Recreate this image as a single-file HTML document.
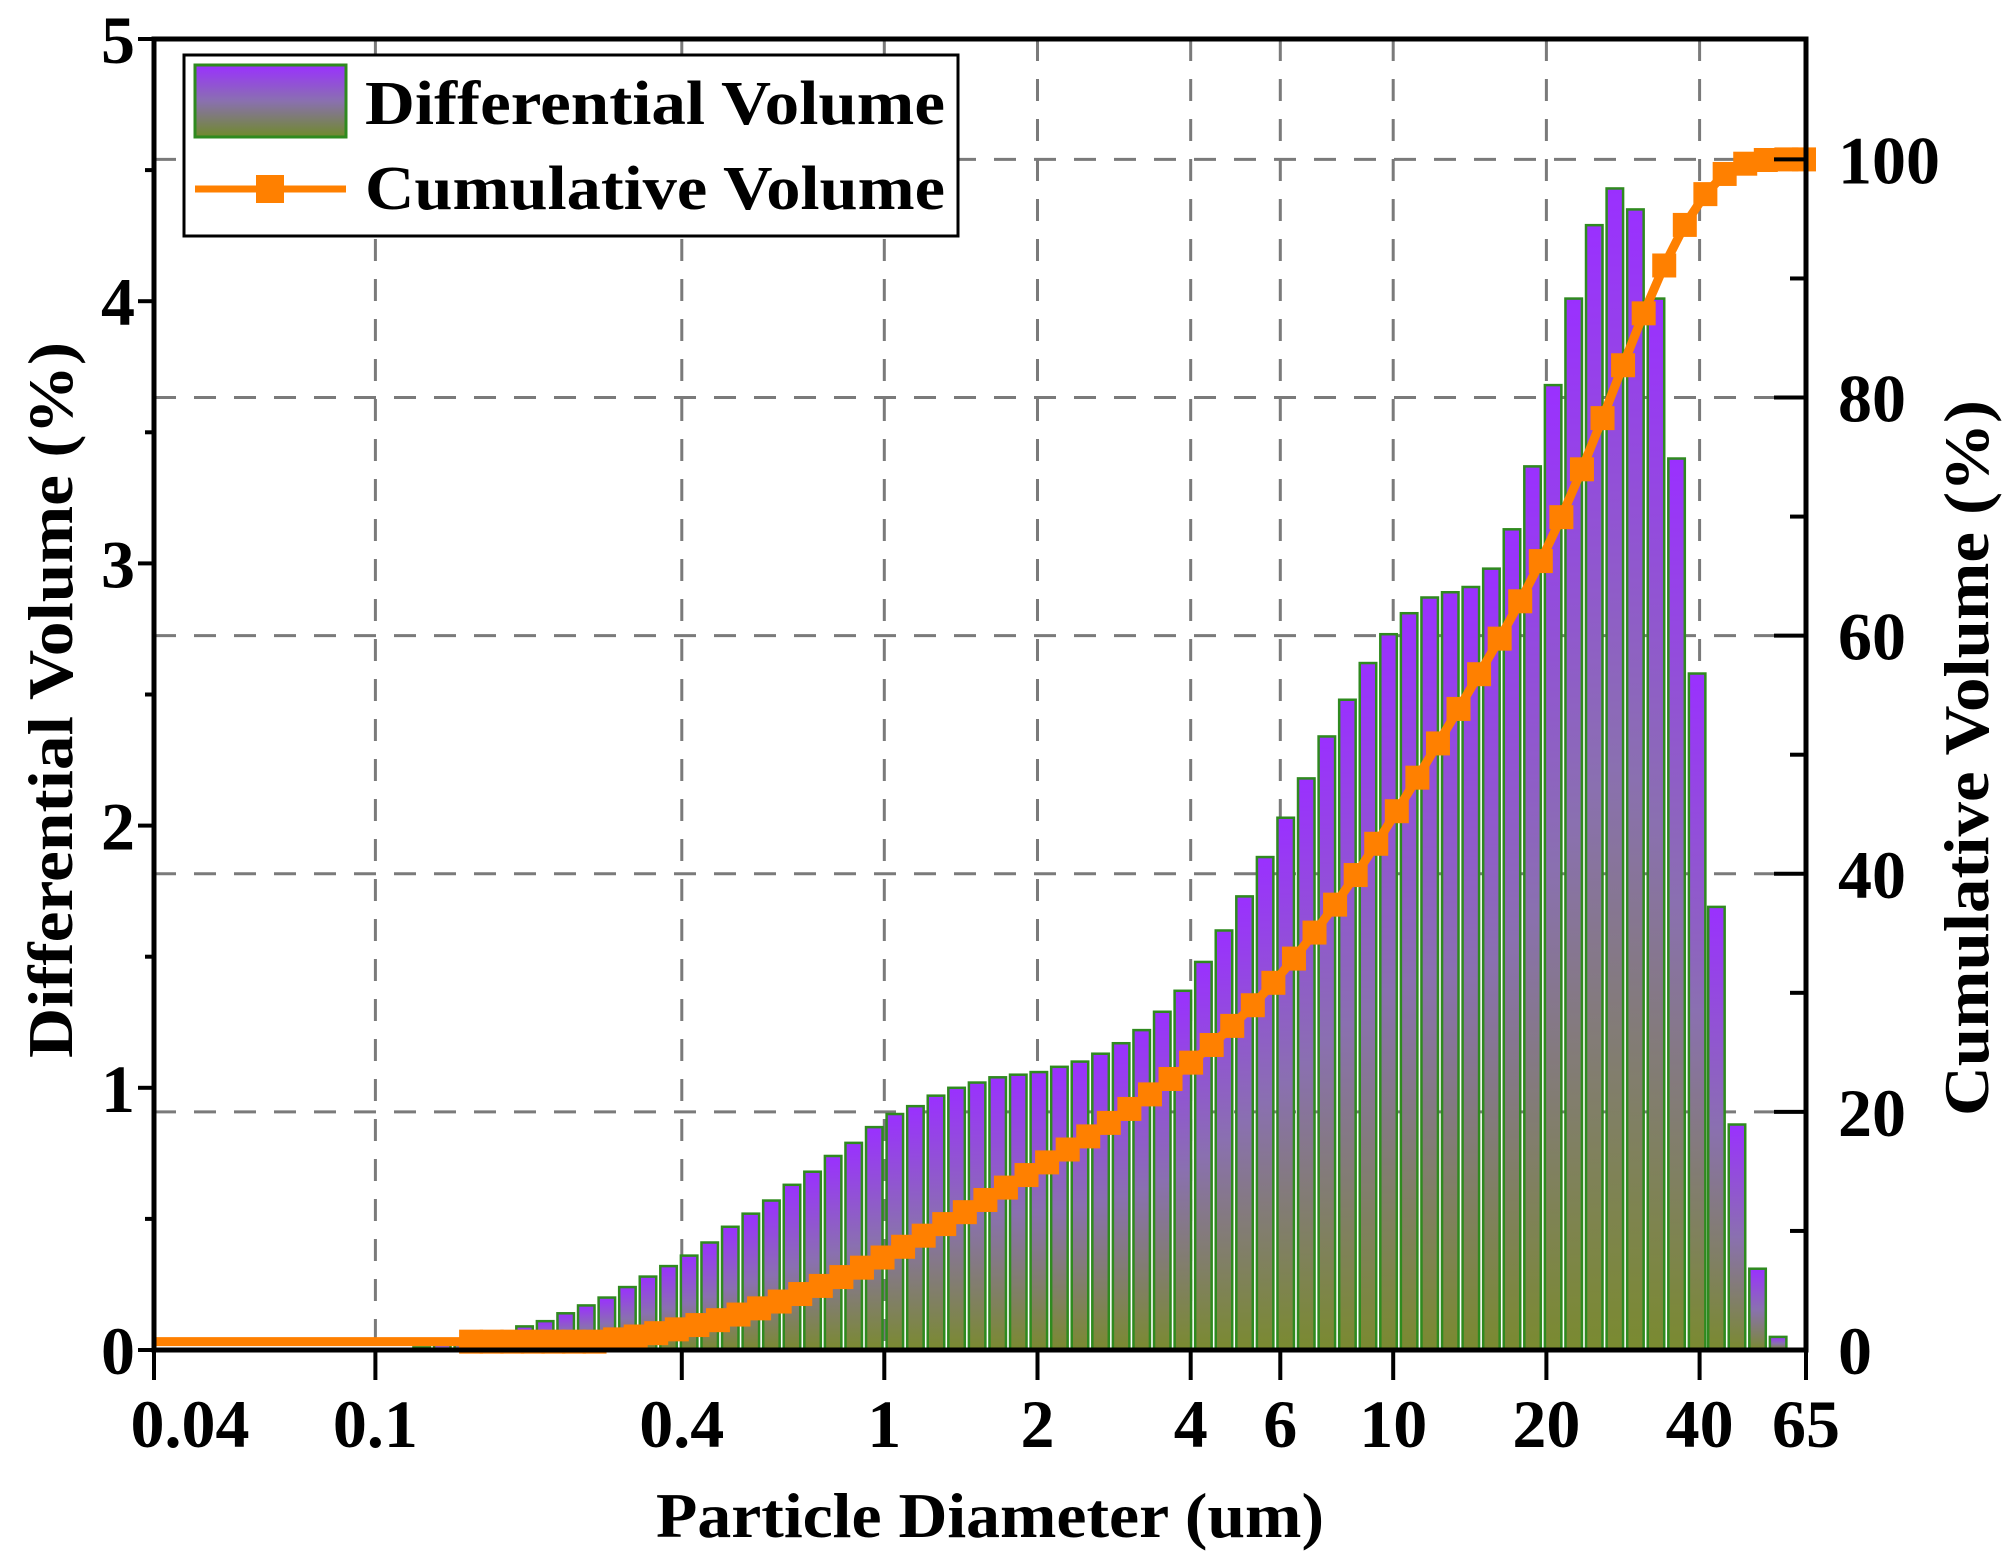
<!DOCTYPE html>
<html><head><meta charset="utf-8"><style>
html,body{margin:0;padding:0;background:#fff;}
svg{display:block;}
text{font-family:"Liberation Serif",serif;font-weight:bold;fill:#000;}
</style></head><body>
<svg id="s" width="2016" height="1560" viewBox="0 0 2016 1560" xmlns="http://www.w3.org/2000/svg">
<defs>
<linearGradient id="g" x1="0" y1="0" x2="0" y2="1">
<stop offset="0" stop-color="#9a30ff"/>
<stop offset="0.5" stop-color="#8a70b0"/>
<stop offset="1" stop-color="#7a8a30"/>
</linearGradient>
<linearGradient id="gl" x1="0" y1="0" x2="0" y2="1">
<stop offset="0" stop-color="#9a30ff"/>
<stop offset="0.5" stop-color="#8a70b0"/>
<stop offset="1" stop-color="#6f8a2a"/>
</linearGradient>
</defs>
<g id="grid"></g>
<g id="bars"></g>
<g id="cum"></g>
<g id="axes"></g>
</svg>
<script>
var NS="http://www.w3.org/2000/svg";
function el(p,t,a,txt){var e=document.createElementNS(NS,t);for(var k in a)e.setAttribute(k,a[k]);if(txt!==undefined)e.textContent=txt;p.appendChild(e);return e;}
var L=154,R=1806,T=39,B=1350;
function X(d){return 375.4+508.9*Math.log10(d/0.1);}
function YL(v){return B-v*262.2;}
function YR(c){return B-c*11.906;}
function XD(xd){return xd*1.2857;}
var grid=document.getElementById('grid'),bars=document.getElementById('bars'),cum=document.getElementById('cum'),ax=document.getElementById('axes');
[0.1,0.4,1,2,4,6,10,20,40].forEach(function(d){el(grid,'line',{x1:X(d),x2:X(d),y1:T,y2:B,stroke:'#7a7a7a','stroke-width':3,'stroke-dasharray':'22 18'});});
[20,40,60,80,100].forEach(function(c){el(grid,'line',{x1:L,x2:R,y1:YR(c),y2:YR(c),stroke:'#7a7a7a','stroke-width':3,'stroke-dasharray':'22 18'});});
var d=[[328,0.01],[344,0.02],[360,0.03],[376,0.05],[392,0.07],[408,0.09],[424,0.11],[440,0.14],[456,0.17],[472,0.20],[488,0.24],[504,0.28],[520,0.32],[536,0.36],[552,0.41],[568,0.47],[584,0.52],[600,0.57],[616,0.63],[632,0.68],[648,0.74],[664,0.79],[680,0.85],[696,0.90],[712,0.93],[728,0.97],[744,1.00],[760,1.02],[776,1.04],[792,1.05],[808,1.06],[824,1.08],[840,1.10],[856,1.13],[872,1.17],[888,1.22],[904,1.29],[920,1.37],[936,1.48],[952,1.60],[968,1.73],[984,1.88],[1000,2.03],[1016,2.18],[1032,2.34],[1048,2.48],[1064,2.62],[1080,2.73],[1096,2.81],[1112,2.87],[1128,2.89],[1144,2.91],[1160,2.98],[1176,3.13],[1192,3.37],[1208,3.68],[1224,4.01],[1240,4.29],[1256,4.43],[1272,4.35],[1288,4.01],[1304,3.40],[1320,2.58],[1335,1.69],[1351,0.86],[1367,0.31],[1383,0.05]];
var tot=0;d.forEach(function(p){tot+=p[1];});
var w=16.5,acc=0,pts=[[L,YR(0.7)],[XD(300),YR(0.7)]];
d.forEach(function(p){var xc=XD(p[0]);var y=YL(p[1]);
 el(bars,'rect',{x:xc-w/2,y:y,width:w,height:B-y,fill:'url(#g)',stroke:'#2f8a1f','stroke-width':2.5});
 acc+=p[1];pts.push([xc+w/2,YR(Math.max(0.7,acc/tot*100))]);});
pts.push([R-2,YR(100)]);
el(cum,'polyline',{points:pts.map(function(p){return p[0]+','+p[1];}).join(' '),fill:'none',stroke:'#ff8000','stroke-width':9});
pts.slice(4).forEach(function(p){el(cum,'rect',{x:p[0]-12,y:p[1]-12,width:24,height:24,fill:'#ff8000'});});
el(ax,'rect',{x:L,y:T,width:R-L,height:B-T,fill:'none',stroke:'#000','stroke-width':5});
for(var v=0;v<=5;v+=0.5){var y=YL(v);var maj=(v%1===0);el(ax,'line',{x1:L-(maj?16:9),x2:L,y1:y,y2:y,stroke:'#000','stroke-width':4});
 if(maj)el(ax,'text',{x:135,y:y+24,'font-size':68,'text-anchor':'end'},String(v));}
for(var c=0;c<=100;c+=10){var y=YR(c);var maj=(c%20===0);el(ax,'line',{x1:R-(maj?32:16),x2:R,y1:y,y2:y,stroke:'#000','stroke-width':4});
 if(maj)el(ax,'text',{x:1838,y:y+24,'font-size':68},String(c));}
[[0.04,'0.04'],[0.1,'0.1'],[0.4,'0.4'],[1,'1'],[2,'2'],[4,'4'],[6,'6'],[10,'10'],[20,'20'],[40,'40'],[65,'65']].forEach(function(t){var x=t[0]==0.04?L:(t[0]==65?R:X(t[0]));
 el(ax,'line',{x1:x,x2:x,y1:B,y2:B+30,stroke:'#000','stroke-width':4});
 var lx=t[0]==0.04?190:x;
 el(ax,'text',{x:lx,y:1447,'font-size':68,'text-anchor':'middle'},t[1]);});
el(ax,'text',{x:990,y:1537,'font-size':64,'text-anchor':'middle',textLength:668,lengthAdjust:'spacingAndGlyphs'},'Particle Diameter (um)');
el(ax,'text',{x:0,y:0,'font-size':64,'text-anchor':'middle',transform:'translate(72,700) rotate(-90)',textLength:716,lengthAdjust:'spacingAndGlyphs'},'Differential Volume (%)');
el(ax,'text',{x:0,y:0,'font-size':64,'text-anchor':'middle',transform:'translate(1988,758) rotate(-90)',textLength:716,lengthAdjust:'spacingAndGlyphs'},'Cumulative Volume (%)');
el(ax,'rect',{x:184,y:55,width:774,height:181,fill:'#fff',stroke:'#000','stroke-width':3});
el(ax,'rect',{x:195,y:65,width:151,height:72,fill:'url(#gl)',stroke:'#2f8a1f','stroke-width':3});
el(ax,'line',{x1:195,x2:346,y1:189,y2:189,stroke:'#ff8000','stroke-width':7});
el(ax,'rect',{x:256,y:175,width:28,height:28,fill:'#ff8000'});
el(ax,'text',{x:365,y:124,'font-size':62,textLength:580,lengthAdjust:'spacingAndGlyphs'},'Differential Volume');
el(ax,'text',{x:365,y:209,'font-size':62,textLength:580,lengthAdjust:'spacingAndGlyphs'},'Cumulative Volume');
</script>
</body></html>
